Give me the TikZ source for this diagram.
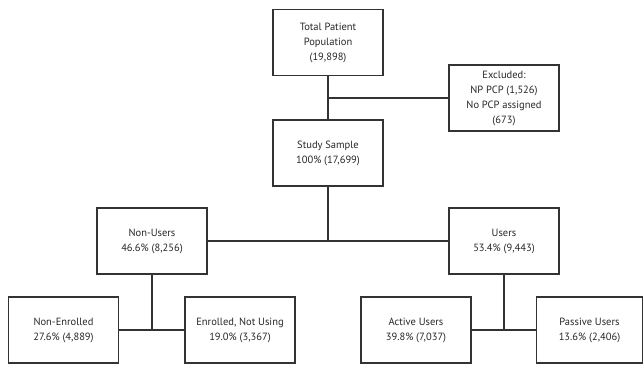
\documentclass[tikz,border=0pt]{standalone}
\usepackage{fontspec}
\setmainfont{PT Sans}
\begin{document}
\begin{tikzpicture}[x=1pt,y=-1pt,
  box/.style={draw=black!80,line width=1.3pt,minimum width=110pt,minimum height=66pt,align=center,inner sep=0pt,font=\fontsize{10.5}{15}\selectfont,text=black!85},
  conn/.style={draw=black!80,line width=1.3pt}]
\useasboundingbox (0,0) rectangle (643,365);
\node[box] (total) at (328,42.5) {Total Patient\\Population\\(19,898)};
\node[box] (excl) at (504,98) {Excluded:\\NP PCP (1,526)\\No PCP assigned\\(673)};
\node[box] (study) at (328,153) {Study Sample\\100\% (17,699)};
\node[box] (non) at (152,241) {Non-Users\\46.6\% (8,256)};
\node[box] (users) at (504,241) {Users\\53.4\% (9,443)};
\node[box] (nenr) at (63.5,330) {Non-Enrolled\\27.6\% (4,889)};
\node[box] (enr) at (240,330) {Enrolled, Not Using\\19.0\% (3,367)};
\node[box] (act) at (416,330) {Active Users\\39.8\% (7,037)};
\node[box,minimum width=106pt] (pas) at (589.5,330) {Passive Users\\13.6\% (2,406)};
\coordinate (j1) at (328,98);
\coordinate (j2) at (328,241);
\coordinate (j3) at (152,330);
\coordinate (j4) at (504,330);
\draw[conn] (total.south) -- (study.north);
\draw[conn] (j1) -- (excl.west);
\draw[conn] (study.south) -- (j2);
\draw[conn] (non.east) -- (users.west);
\draw[conn] (non.south) -- (j3);
\draw[conn] (nenr.east) -- (enr.west);
\draw[conn] (users.south) -- (j4);
\draw[conn] (act.east) -- (pas.west);
\end{tikzpicture}
\end{document}
